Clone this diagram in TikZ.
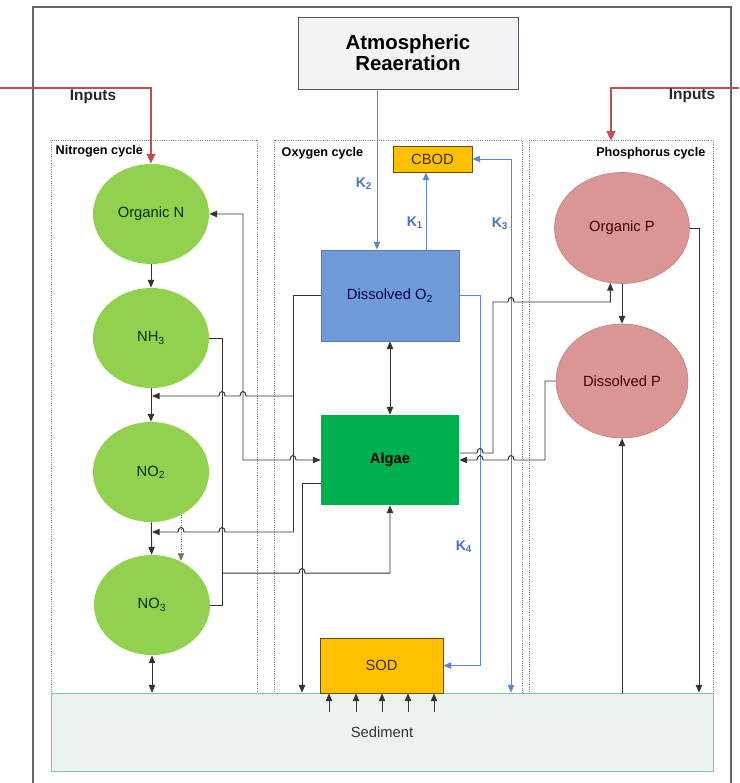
\documentclass[tikz,border=0pt]{standalone}
\usepackage{fontspec}
\setmainfont{Liberation Sans}
\usepackage{tikz}
\usetikzlibrary{arrows.meta,positioning,calc,shapes.geometric}
\definecolor{ngreen}{RGB}{146,208,80}
\definecolor{agreen}{RGB}{0,176,80}
\definecolor{oblue}{RGB}{112,155,216}
\definecolor{bodyellow}{RGB}{255,192,0}
\definecolor{prose}{RGB}{218,150,148}
\definecolor{inred}{RGB}{192,80,77}
\definecolor{kblue}{RGB}{68,114,196}
\definecolor{atmgrey}{RGB}{242,243,247}
\definecolor{sedfill}{RGB}{236,242,240}
\definecolor{sedline}{RGB}{120,200,165}
\newcommand{\hop}[2]{-- (#1-3,#2) .. controls (#1-3,#2-6) and (#1+3,#2-6) .. (#1+3,#2)}
\newcommand{\klabel}[2]{\node[klab] (k#2) at #1 {K\textsubscript{#2}};}

\begin{document}
\begin{tikzpicture}[x=0.025cm,y=-0.025cm,
  every node/.style={font=\fontsize{10.5}{12}\selectfont},
  conn/.style={draw=black!80,line width=0.7pt},
  arr/.style={conn,-{Triangle[length=5.5pt,width=4.5pt]}},
  rarr/.style={conn,{Triangle[length=5.5pt,width=4.5pt]}-},
  dbl/.style={conn,{Triangle[length=5.5pt,width=4.5pt]}-{Triangle[length=5.5pt,width=4.5pt]}},
  karr/.style={draw=kblue!85,line width=0.7pt,-{Triangle[length=5.5pt,width=4.5pt]}},
  kdbl/.style={draw=kblue!85,line width=0.7pt,{Triangle[length=5.5pt,width=4.5pt]}-{Triangle[length=5.5pt,width=4.5pt]}},
  inarr/.style={draw=inred,line width=1.6pt,-{Triangle[length=7pt,width=6pt]}},
  inlab/.style={font=\bfseries\fontsize{11}{12}\selectfont,text=black!85},
  cyclab/.style={font=\bfseries\fontsize{9}{10}\selectfont,inner sep=1pt},
  klab/.style={font=\bfseries\fontsize{10}{12}\selectfont,text=kblue},
  colbox/.style={draw=black!50,densely dotted,line width=0.6pt},
  ncirc/.style={ellipse,fill=ngreen,inner sep=0pt,minimum width=2.9cm,minimum height=2.5cm,text=black!80!green},
  pcirc/.style={ellipse,fill=prose,draw=prose!85!black,inner sep=0pt,text=black!75!red},
  obox/.style={rectangle,fill=bodyellow,draw=black!60!bodyellow,inner sep=0pt,text=black!75!bodyellow}]
\useasboundingbox (0,0) rectangle (739,783);
\draw[black!60,line width=1pt] (33,783) |- (731,7) -- (731,783);
\node[rectangle,fill=atmgrey,draw=black!65,minimum width=5.5cm,minimum height=1.8cm,align=center,
  font=\bfseries\fontsize{14.5}{15}\selectfont] (atm) at (408,53) {Atmospheric\\Reaeration};
\draw[colbox] (51,140) rectangle (257,693);
\draw[colbox] (274,140) rectangle (522,693);
\draw[colbox] (529,140) rectangle (713,693);
\node[cyclab,anchor=west] (nlab) at (54,151) {Nitrogen cycle};
\node[cyclab,anchor=west] (olab) at (280,153) {Oxygen cycle};
\node[cyclab,anchor=east] (plab) at (707,153) {Phosphorus cycle};
\node[rectangle,fill=sedfill,draw=sedline,minimum width=16.55cm,minimum height=1.95cm,text=black!80] (sed) at (382,732) {Sediment};
\node[ncirc] (orgN) at (151,214) {Organic N};
\node[ncirc] (nh3) at (151,338) {NH\textsubscript{3}};
\node[ncirc] (no2) at (151,472) {NO\textsubscript{2}};
\node[ncirc] (no3) at (152,605) {NO\textsubscript{3}};
\node[pcirc,minimum width=3.375cm,minimum height=2.775cm] (orgP) at (622,228) {Organic P};
\node[pcirc,minimum width=3.3cm,minimum height=2.85cm] (dissP) at (622,381) {Dissolved P};
\node[rectangle,fill=oblue,draw=oblue!80!black,minimum width=3.45cm,minimum height=2.275cm,text=black!70!blue] (do2) at (390,295.5) {Dissolved O\textsubscript{2}};
\node[rectangle,fill=agreen,minimum width=3.45cm,minimum height=2.25cm,font=\bfseries\fontsize{10.5}{12}\selectfont] (algae) at (390,460) {Algae};
\node[obox,minimum width=1.975cm,minimum height=0.65cm] (cbod) at (432.5,159) {CBOD};
\node[obox,minimum width=3.075cm,minimum height=1.375cm] (sod) at (381.5,665.5) {SOD};
\coordinate (pin) at (611,141);
\draw[inarr] (0,88) -| (orgN.north);
\draw[inarr] (739,88) -| (pin);
\node[inlab] (inN) at (93,97) {Inputs};
\node[inlab] (inP) at (692,96) {Inputs};
\draw[karr] (atm.south -| 377,0) -- (do2.north -| 377,0);
\draw[karr] (do2.north -| 426,0) -- (cbod.south -| 426,0);
\draw[kdbl] (cbod.east) -| (sed.north -| 511,0);
\draw[karr] (do2.east) -| (480,665.5) -- (sod.east);
\klabel{(364,184)}{2}
\klabel{(415,223)}{1}
\klabel{(500,224)}{3}
\klabel{(464,547)}{4}
\draw[arr] (orgN) -- (nh3);
\draw[arr] (nh3) -- (no2);
\draw[arr] (no2) -- (no3);
\draw[dbl] (no3) -- (no3 |- sed.north);
\draw[arr,densely dotted,black!55] (181,515) -- (181,561);
\draw[conn] (nh3.east) -| (222,605) -- (no3.east);
\draw[arr] (222,573) \hop{302}{573} -| (algae.south);
\draw[dbl] (orgN.east) -| (243,460) \hop{293}{460} -- (algae.west);
\draw[conn] (do2.west) -| (293,532);
\draw[rarr] (152,396) \hop{222}{396} \hop{243}{396} -- (293,396);
\draw[rarr] (152,532) \hop{181}{532} \hop{222}{532} -- (293,532);
\draw[arr] ($(algae.west)+(0,23)$) -| (sed.north -| 302,0);
\draw[dbl] (do2) -- (algae);
\foreach \sx in {329,356,382,408,434}
  \draw[arr] (\sx,712) -- (sod.south -| \sx,0);
\draw[arr] (algae.east |- 0,453) \hop{480}{453} -- (493,453) -- (493,302) \hop{511}{302} -| (orgP.258);
\draw[rarr] (algae.east) \hop{480}{460} \hop{511}{460} -- (545,460) |- (dissP.west);
\draw[arr] (orgP) -- (dissP);
\draw[arr] (orgP.east) -| (sed.north -| 699,0);
\draw[arr] (dissP.south |- sed.north) -- (dissP.south);
\end{tikzpicture}
\end{document}
